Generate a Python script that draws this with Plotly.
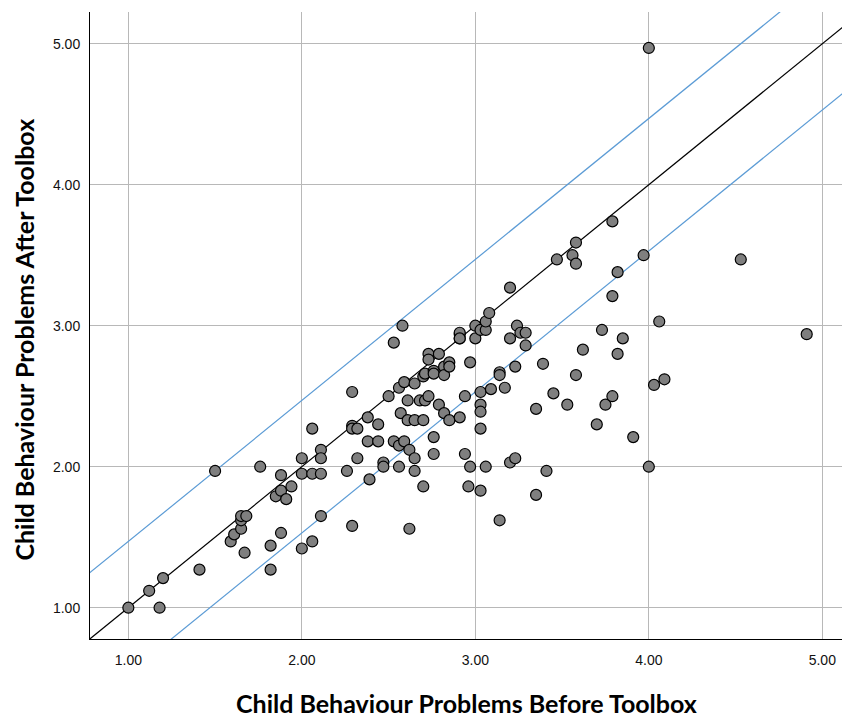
import plotly.graph_objects as go

# Child behaviour problem scores
before = [1.00, 1.12, 1.20, 1.18, 1.41, 1.50, 1.59, 1.61, 1.65, 1.65, 1.65, 1.68, 1.67, 1.76, 1.82,
          1.82, 1.85, 1.88, 1.88, 1.91, 1.94, 1.88,
          2.00, 2.00, 2.00, 2.06, 2.06, 2.06, 2.11, 2.11, 2.11, 2.11, 2.26, 2.29, 2.29, 2.29, 2.32,
          2.32, 2.29, 2.38, 2.38, 2.39, 2.44, 2.44, 2.47, 2.47, 2.50,
          2.53, 2.58, 2.53, 2.56, 2.59, 2.65, 2.70, 2.71, 2.73, 2.73, 2.79, 2.76, 2.76, 2.82, 2.82,
          2.85, 2.85, 2.91, 2.91, 2.61, 2.68, 2.71, 2.73, 2.79, 2.82, 2.85, 2.91, 2.94, 2.57, 2.61,
          2.65, 2.70, 2.56, 2.59, 2.62, 2.65, 2.65, 2.56, 2.76, 2.76, 2.70, 2.62, 2.94, 2.97, 2.91,
          2.91, 2.97, 2.96,
          3.00, 3.00, 3.03, 3.06, 3.06, 3.08, 3.20, 3.24, 3.20, 3.26, 3.29, 3.29, 3.23, 3.14, 3.14,
          3.03, 3.09, 3.17, 3.03, 3.03, 3.03, 3.06, 3.03, 3.20, 3.23, 3.14, 3.35, 3.35, 3.39, 3.41,
          3.45, 3.53, 3.47, 3.56, 3.58, 3.58, 3.58, 3.62, 3.70, 3.73, 3.75, 3.79, 3.79, 3.79, 3.82,
          3.82, 3.85, 3.91, 3.97, 4.00, 4.00, 4.03, 4.09, 4.06, 4.53, 4.91]
after = [1.00, 1.12, 1.21, 1.00, 1.27, 1.97, 1.47, 1.52, 1.56, 1.62, 1.65, 1.65, 1.39, 2.00, 1.44,
         1.27, 1.79, 1.83, 1.94, 1.77, 1.86, 1.53,
         1.95, 2.06, 1.42, 1.95, 2.27, 1.47, 2.12, 2.06, 1.95, 1.65, 1.97, 2.53, 2.29, 2.27, 2.27,
         2.06, 1.58, 2.35, 2.18, 1.91, 2.30, 2.18, 2.03, 2.00, 2.50,
         2.88, 3.00, 2.18, 2.56, 2.60, 2.59, 2.64, 2.66, 2.80, 2.76, 2.80, 2.68, 2.66, 2.71, 2.65,
         2.74, 2.71, 2.94, 2.91, 2.47, 2.47, 2.47, 2.50, 2.44, 2.38, 2.33, 2.35, 2.50, 2.38, 2.33,
         2.33, 2.33, 2.15, 2.18, 2.12, 2.06, 1.97, 2.00, 2.21, 2.09, 1.86, 1.56, 2.09, 2.74, 2.95,
         2.91, 2.00, 1.86,
         3.00, 2.91, 2.97, 2.97, 3.03, 3.09, 3.27, 3.00, 2.91, 2.95, 2.95, 2.86, 2.71, 2.67, 2.65,
         2.53, 2.55, 2.56, 2.44, 2.39, 2.27, 2.00, 1.83, 2.03, 2.06, 1.62, 2.41, 1.80, 2.73, 1.97,
         2.52, 2.44, 3.47, 3.50, 3.44, 3.59, 2.65, 2.83, 2.30, 2.97, 2.44, 3.74, 3.21, 2.50, 3.38,
         2.80, 2.91, 2.21, 3.50, 4.97, 2.00, 2.58, 2.62, 3.03, 3.47, 2.94]

# Reference lines: identity and a band of +/- offset around it
band_offset = 0.47
x_range = [0.779, 5.148]
y_range = [0.778, 5.225]
tick_vals = [1, 2, 3, 4, 5]
tick_text = ["1.00", "2.00", "3.00", "4.00", "5.00"]

x_title = "Child Behaviour Problems Before Toolbox"
y_title = "Child Behaviour Problems After Toolbox"

line_x = [x_range[0] - 0.5, x_range[1] + 0.5]

fig = go.Figure()
fig.add_trace(go.Scatter(x=line_x, y=[v + band_offset for v in line_x], mode="lines",
                         line=dict(color="#5b9bd5", width=1.2), hoverinfo="skip", showlegend=False))
fig.add_trace(go.Scatter(x=line_x, y=[v - band_offset for v in line_x], mode="lines",
                         line=dict(color="#5b9bd5", width=1.2), hoverinfo="skip", showlegend=False))
fig.add_trace(go.Scatter(x=line_x, y=line_x, mode="lines",
                         line=dict(color="#000000", width=1.2), hoverinfo="skip", showlegend=False))
fig.add_trace(go.Scatter(x=before, y=after, mode="markers",
                         marker=dict(size=11, color="#7f7f7f", line=dict(color="#000000", width=1.2)),
                         showlegend=False))

axis_common = dict(
    tickvals=tick_vals, ticktext=tick_text, showgrid=True, gridcolor="#b8b8b8", gridwidth=1,
    zeroline=False, showline=True, linecolor="#000000", linewidth=1, ticks="",
    tickfont=dict(family="Liberation Sans, Arial, sans-serif", size=14, color="#111111"),
)
fig.update_xaxes(range=x_range, ticklabelstandoff=8, **axis_common)
fig.update_yaxes(range=y_range, ticklabelstandoff=6, **axis_common)

title_font = dict(family="Lato, sans-serif", size=25, color="#000000", weight="bold")
fig.add_annotation(text=x_title, xref="paper", yref="paper", x=0.4964, y=-0.102,
                   showarrow=False, font=title_font, xanchor="center", yanchor="middle")
fig.add_annotation(text=y_title, xref="paper", yref="paper", x=-0.0875, y=0.477,
                   showarrow=False, font=title_font, textangle=-90, xanchor="center", yanchor="middle",
                   borderpad=0)

fig.update_layout(
    width=842, height=712,
    margin=dict(l=81.5, r=2, t=4, b=81),
    plot_bgcolor="#ffffff", paper_bgcolor="#ffffff",
)
fig.write_html("out.html")
